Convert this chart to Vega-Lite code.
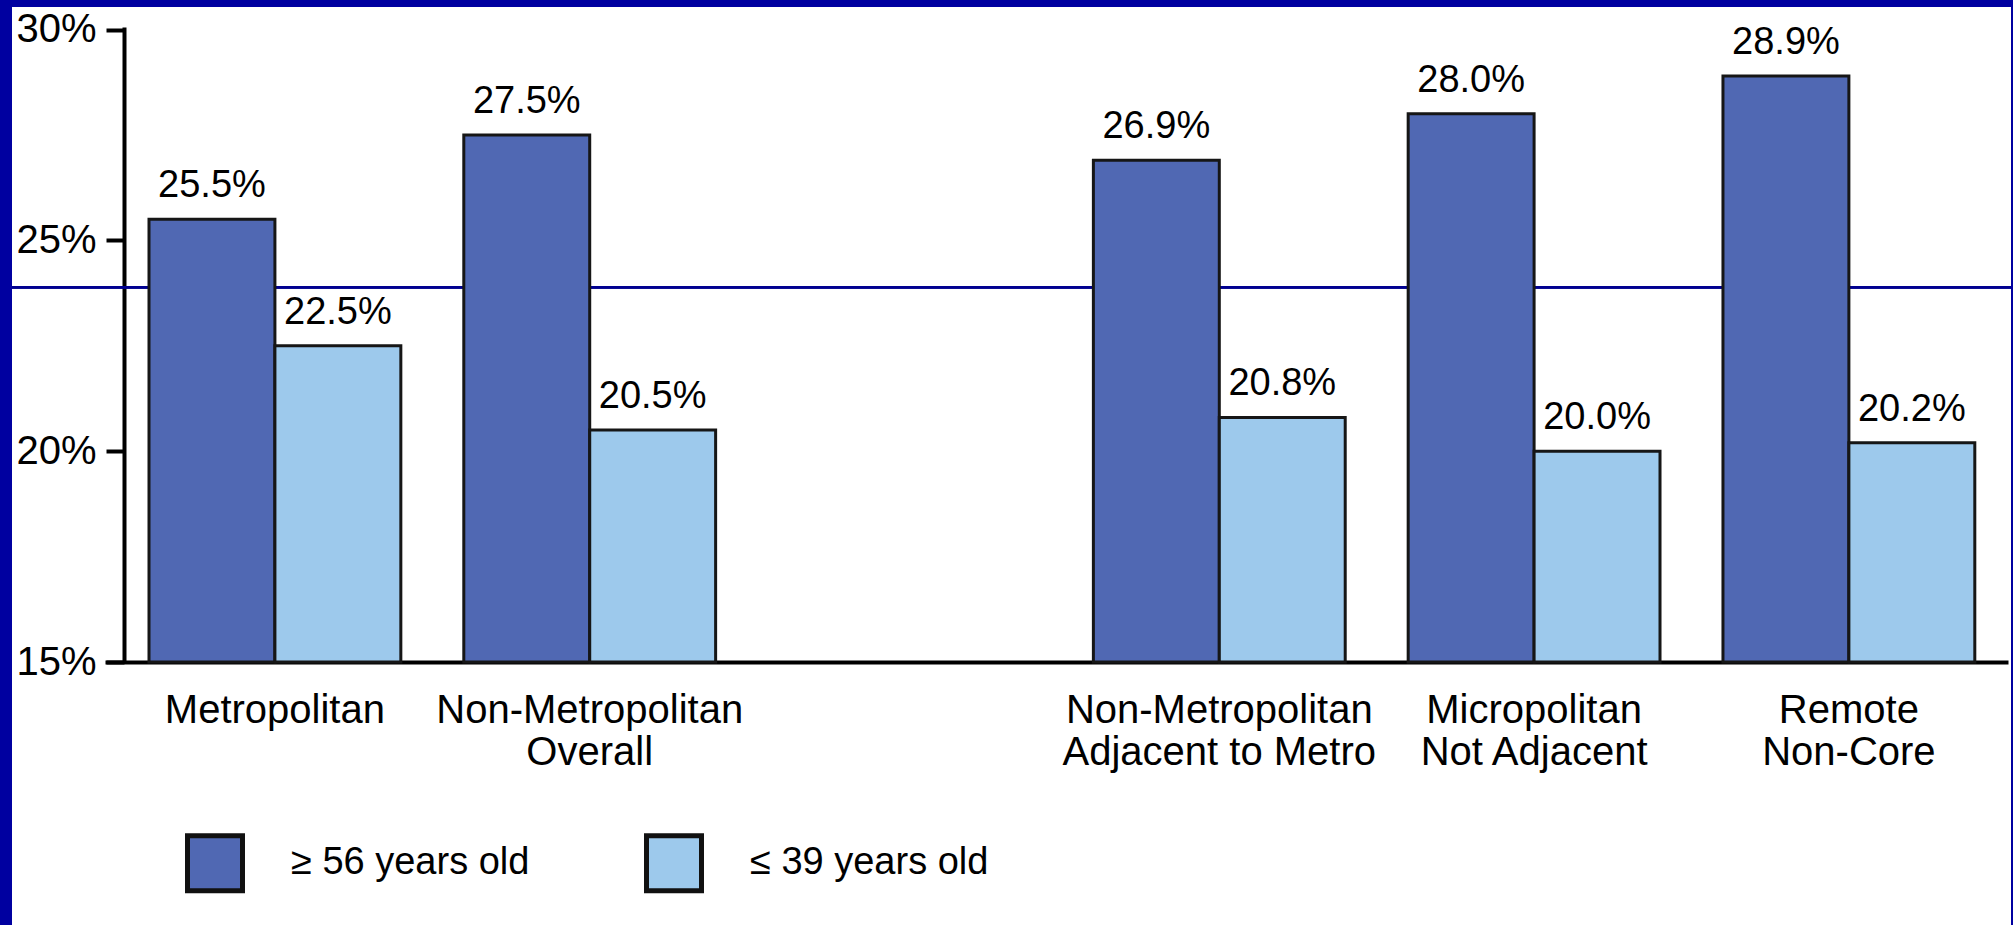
{
  "$schema": "https://vega.github.io/schema/vega-lite/v6.json",
  "width": 1999,
  "height": 918,
  "autosize": {"type": "none"},
  "padding": {"left": 12, "top": 7, "right": 2, "bottom": 0},
  "background": "#0000A0",
  "config": {
    "view": {"fill": "white", "stroke": null},
    "font": "Liberation Sans"
  },
  "data": {
    "values": [
      {"area": "Metropolitan", "age": "≥ 56 years old", "value": 0.255},
      {"area": "Metropolitan", "age": "≤ 39 years old", "value": 0.225},
      {"area": "Non-Metropolitan Overall", "age": "≥ 56 years old", "value": 0.275},
      {"area": "Non-Metropolitan Overall", "age": "≤ 39 years old", "value": 0.205},
      {"area": "Non-Metropolitan Adjacent to Metro", "age": "≥ 56 years old", "value": 0.269},
      {"area": "Non-Metropolitan Adjacent to Metro", "age": "≤ 39 years old", "value": 0.208},
      {"area": "Micropolitan Not Adjacent", "age": "≥ 56 years old", "value": 0.28},
      {"area": "Micropolitan Not Adjacent", "age": "≤ 39 years old", "value": 0.2},
      {"area": "Remote Non-Core", "age": "≥ 56 years old", "value": 0.289},
      {"area": "Remote Non-Core", "age": "≤ 39 years old", "value": 0.202}
    ]
  },
  "layer": [
    {
      "mark": {"type": "rule", "color": "#000090", "strokeWidth": 2},
      "encoding": {
        "y": {"datum": 0.2389, "type": "quantitative", "title": null}
      }
    },
    {
      "mark": {"type": "bar", "stroke": "#161616", "strokeWidth": 3},
      "encoding": {
        "x": {
          "field": "area",
          "type": "nominal",
          "title": null,
          "scale": {
            "domain": ["Metropolitan", "Non-Metropolitan Overall", " ", "Non-Metropolitan Adjacent to Metro", "Micropolitan Not Adjacent", "Remote Non-Core"],
            "paddingInner": 0.2,
            "paddingOuter": 0.2751,
            "align": 0.791
          },
          "axis": {
            "orient": "bottom",
            "offset": -263,
            "grid": false,
            "ticks": false,
            "domainColor": "black",
            "domainWidth": 4,
            "domainDash": [1903, 1000],
            "domainDashOffset": 2810,
            "labelAngle": 0,
            "labelFontSize": 40,
            "labelColor": "black",
            "labelPadding": 28,
            "labelLineHeight": 42,
            "labelBaseline": "top",
            "labelLimit": 400,
            "labelOverlap": false,
            "labelExpr": "datum.value == 'Non-Metropolitan Overall' ? ['Non-Metropolitan', 'Overall'] : datum.value == 'Non-Metropolitan Adjacent to Metro' ? ['Non-Metropolitan', 'Adjacent to Metro'] : datum.value == 'Micropolitan Not Adjacent' ? ['Micropolitan', 'Not Adjacent'] : datum.value == 'Remote Non-Core' ? ['Remote', 'Non-Core'] : datum.label"
          }
        },
        "xOffset": {
          "field": "age",
          "type": "nominal",
          "scale": {"domain": ["≥ 56 years old", "≤ 39 years old"], "paddingInner": 0, "paddingOuter": 0}
        },
        "y": {
          "field": "value",
          "type": "quantitative",
          "title": null,
          "scale": {"domain": [0.08763, 0.30534], "nice": false, "zero": false},
          "axis": {
            "values": [0.15, 0.2, 0.25, 0.3],
            "format": ".0%",
            "offset": -112,
            "grid": false,
            "domainColor": "black",
            "domainWidth": 4,
            "domainDash": [635, 1000],
            "domainDashOffset": 1372,
            "tickColor": "black",
            "tickWidth": 4,
            "tickSize": 18,
            "labelFontSize": 40,
            "labelColor": "black",
            "labelPadding": 10
          }
        },
        "y2": {"datum": 0.15},
        "color": {
          "field": "age",
          "type": "nominal",
          "scale": {"domain": ["≥ 56 years old", "≤ 39 years old"], "range": ["#5068B3", "#9DC9EC"]},
          "legend": {
            "orient": "none",
            "legendX": 173,
            "legendY": 826,
            "direction": "horizontal",
            "title": null,
            "padding": 0,
            "labelFontSize": 38,
            "labelColor": "black",
            "labelOffset": 46,
            "labelLimit": 400,
            "columnPadding": 106,
            "symbolType": "square",
            "symbolSize": 3025,
            "symbolStrokeColor": "#111111",
            "symbolStrokeWidth": 5,
            "symbolOpacity": 1
          }
        }
      }
    },
    {
      "mark": {"type": "text", "fontSize": 38, "baseline": "alphabetic", "dy": -22, "color": "black"},
      "encoding": {
        "x": {"field": "area", "type": "nominal", "title": null},
        "xOffset": {"field": "age", "type": "nominal"},
        "y": {"field": "value", "type": "quantitative", "title": null},
        "text": {"field": "value", "type": "quantitative", "format": ".1%"}
      }
    }
  ]
}
